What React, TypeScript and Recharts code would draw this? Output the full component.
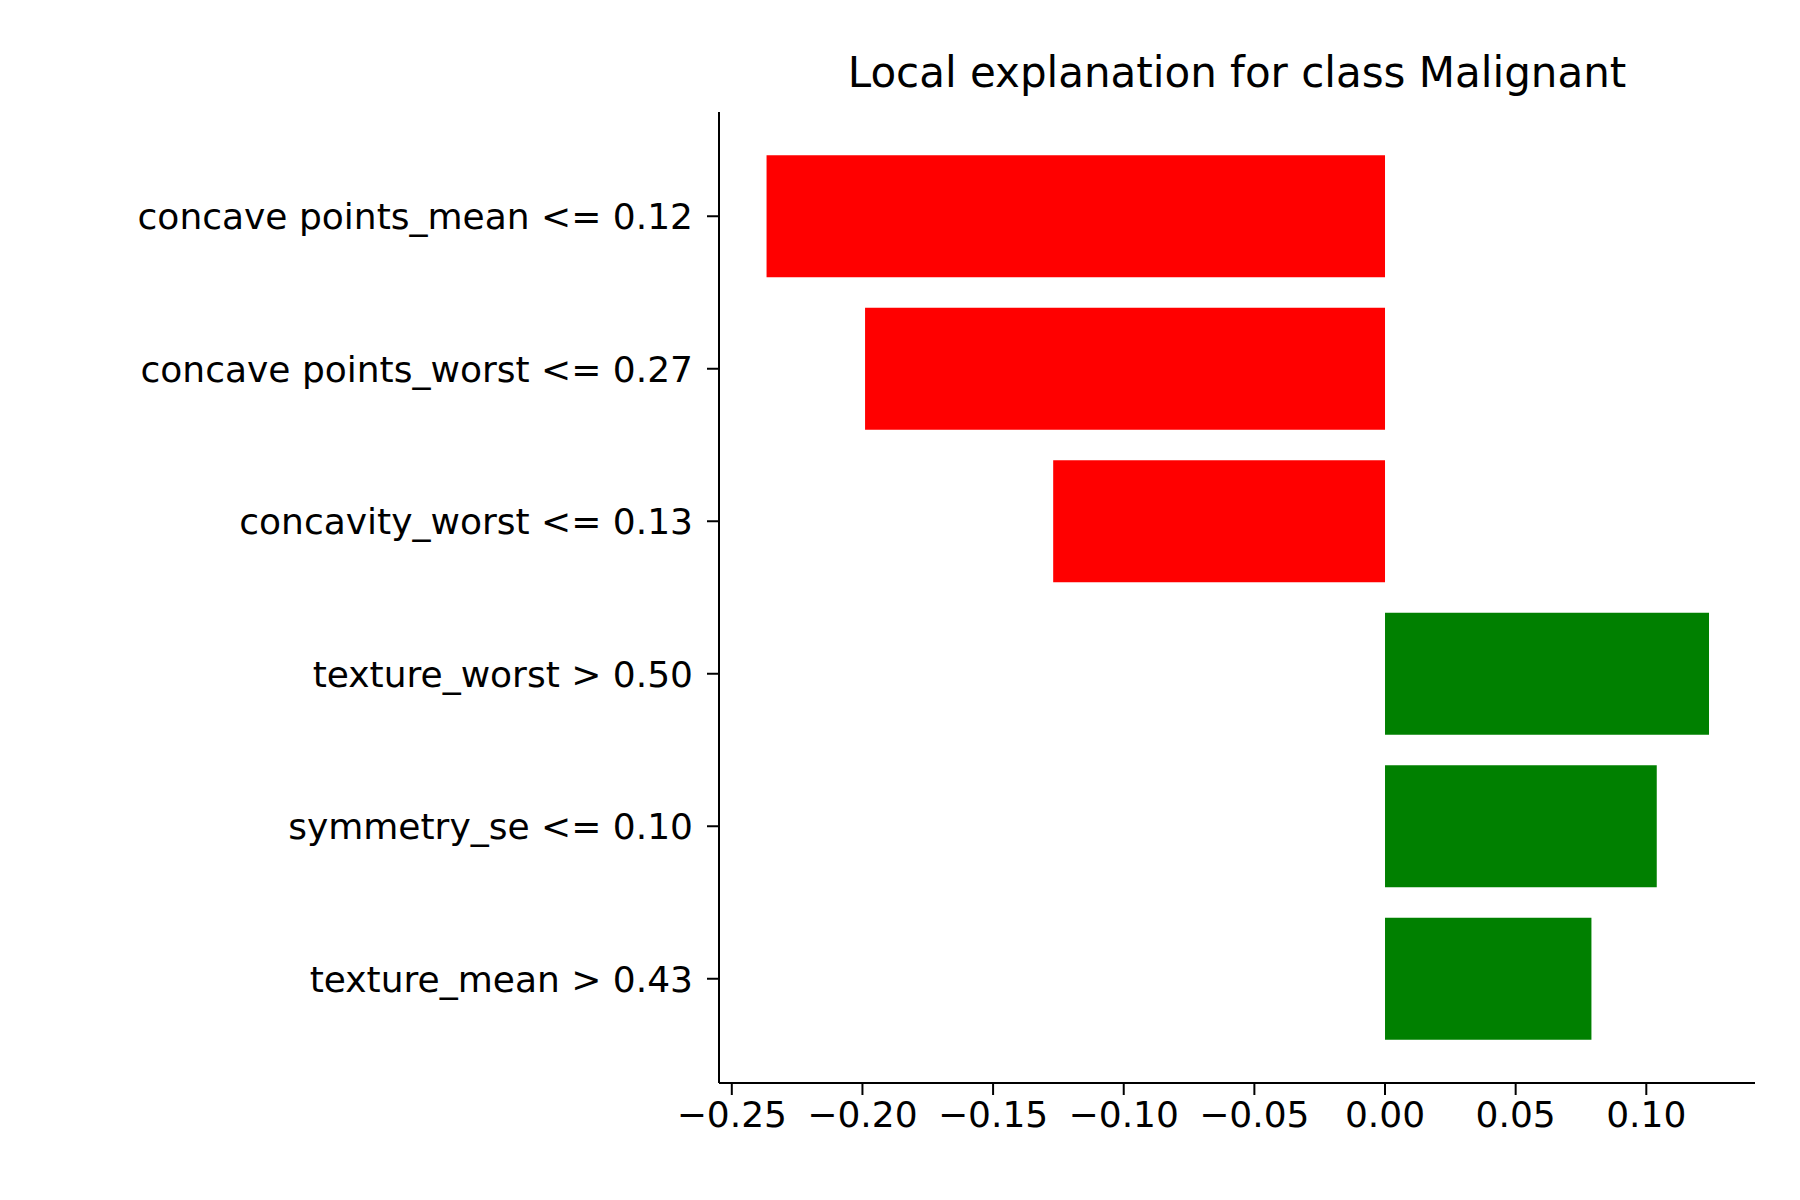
import React from "react";
import { BarChart, Bar, XAxis, YAxis, Cell } from "recharts";

const features = [
  "concave points_mean <= 0.12",
  "concave points_worst <= 0.27",
  "concavity_worst <= 0.13",
  "texture_worst > 0.50",
  "symmetry_se <= 0.10",
  "texture_mean > 0.43",
];
const weights = [-0.2367, -0.199, -0.127, 0.124, 0.104, 0.079];
const xTicks = [-0.25, -0.2, -0.15, -0.1, -0.05, 0, 0.05, 0.1];

const data = features.map((f, i) => ({ feature: f, weight: weights[i] }));
const fmt = (v: number) => {
  const s = Math.abs(v).toFixed(2);
  return v < 0 ? "\u2212" + s : s;
};
const font = "DejaVu Sans, sans-serif";

export default function App() {
  return (
    <div style={{ position: "relative", width: 1784, height: 1184, fontFamily: font }}>
      <div style={{ position: "absolute", left: 719 - 8, width: 1036, top: 40, textAlign: "center", fontSize: 42, color: "#000" }}>
        Local explanation for class Malignant
      </div>
      <BarChart
        width={1784}
        height={1184}
        data={data}
        layout="vertical"
        margin={{ top: 104, right: 37, left: 0, bottom: 0 }}
        barCategoryGap="10%"
      >
        <XAxis
          type="number"
          dataKey="weight"
          domain={[-0.2549, 0.1416]}
          ticks={xTicks}
          tickFormatter={fmt}
          allowDataOverflow
          height={109}
          tickSize={12}
          tickMargin={6}
          stroke="#000"
          axisLine={{ stroke: "#000", strokeWidth: 2 }}
          tickLine={{ stroke: "#000", strokeWidth: 2 }}
          tick={{ fill: "#000", fontSize: 36, fontFamily: font }}
        />
        <XAxis xAxisId="top" orientation="top" type="number" domain={[-0.2549, 0.1416]} height={0} tick={false} tickLine={false} axisLine={{ stroke: "#000", strokeWidth: 2 }} />
        <YAxis
          type="category"
          dataKey="feature"
          width={711}
          padding={{ top: 28, bottom: 28 }}
          tickSize={12}
          tickMargin={14}
          interval={0}
          axisLine={{ stroke: "#000", strokeWidth: 2 }}
          tickLine={{ stroke: "#000", strokeWidth: 2 }}
          tick={{ fill: "#000", fontSize: 36, fontFamily: font }}
        />
        <YAxis yAxisId="right" orientation="right" type="category" dataKey="feature" width={0} tick={false} tickLine={false} axisLine={{ stroke: "#000", strokeWidth: 2 }} />
        <Bar dataKey="weight" isAnimationActive={false}>
          {data.map((d, i) => (
            <Cell key={i} fill={d.weight < 0 ? "#ff0000" : "#008000"} />
          ))}
        </Bar>
      </BarChart>
    </div>
  );
}
